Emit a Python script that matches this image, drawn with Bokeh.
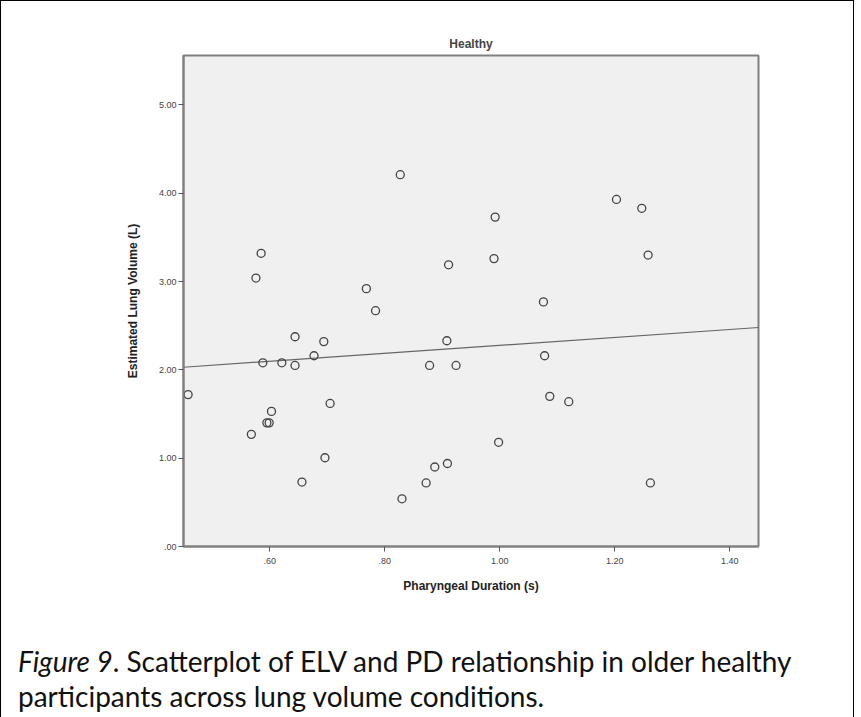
from bokeh.plotting import figure
from bokeh.models import Range1d, CustomJSTickFormatter, FixedTicker, Div
from bokeh.layouts import column
from bokeh.embed import file_html
from bokeh.resources import INLINE

pd_s = [0.458, 0.568, 0.576, 0.585, 0.588, 0.595, 0.599, 0.603, 0.621, 0.644,
        0.644, 0.656, 0.677, 0.694, 0.696, 0.705, 0.768, 0.784, 0.827, 0.830,
        0.872, 0.878, 0.887, 0.908, 0.909, 0.911, 0.924, 0.990, 0.992, 0.998,
        1.076, 1.078, 1.087, 1.120, 1.203, 1.247, 1.258, 1.262]
elv = [1.72, 1.27, 3.04, 3.32, 2.08, 1.40, 1.40, 1.53, 2.08, 2.375,
       2.05, 0.73, 2.16, 2.32, 1.005, 1.62, 2.92, 2.67, 4.21, 0.54,
       0.72, 2.05, 0.90, 2.33, 0.94, 3.19, 2.05, 3.26, 3.73, 1.18,
       2.77, 2.16, 1.70, 1.64, 3.93, 3.83, 3.30, 0.72]
fit_x = [0.45, 1.45]
fit_y = [2.03, 2.48]
x_ticks = [0.6, 0.8, 1.0, 1.2, 1.4]
y_ticks = [0, 1, 2, 3, 4, 5]

p = figure(width=843, height=603, output_backend="svg", toolbar_location=None,
           x_range=Range1d(0.45, 1.45), y_range=Range1d(0, 5.56),
           min_border_left=182, min_border_right=86, min_border_top=54,
           min_border_bottom=58, title="Healthy")
p.title.align = "center"
p.title.text_font = "Liberation Sans"
p.title.text_font_size = "12px"
p.title.text_font_style = "bold"
p.title.offset = 0
p.title.standoff = 10
p.background_fill_color = "#f0f0f0"
p.border_fill_color = "white"
p.outline_line_color = "#808080"
p.outline_line_width = 2
p.grid.visible = False

fmt = CustomJSTickFormatter(code="return tick.toFixed(2).replace(/^0/, '');")
for ax, ticks, lab in ((p.xaxis, x_ticks, "Pharyngeal Duration (s)"),
                       (p.yaxis, y_ticks, "Estimated Lung Volume (L)")):
    ax.ticker = FixedTicker(ticks=ticks)
    ax.formatter = fmt
    ax.minor_tick_line_color = None
    ax.major_tick_in = 0
    ax.major_tick_out = 5
    ax.major_tick_line_color = "#555555"
    ax.axis_line_color = "#808080"
    ax.axis_line_width = 2
    ax.major_label_text_font = "Liberation Sans"
    ax.major_label_text_font_size = "9px"
    ax.major_label_text_color = "#444444"
    ax.axis_label = lab
    ax.axis_label_text_font = "Liberation Sans"
    ax.axis_label_text_font_size = "12px"
    ax.axis_label_text_font_style = "bold"
    ax.axis_label_text_color = "#222222"
p.xaxis.major_label_standoff = 6
p.xaxis.axis_label_standoff = 12
p.yaxis.major_label_standoff = 2
p.yaxis.axis_label_standoff = 16

p.line(fit_x, fit_y, line_color="#666666", line_width=1.2)
p.scatter(pd_s, elv, size=8, fill_color=None, line_color="#444444", line_width=1.3)

cap = Div(text="<i>Figure 9</i>. Scatterplot of ELV and PD relationship in older healthy<br>"
               "participants across lung volume conditions.",
          width=830, styles={"font-family": "Lato", "font-size": "28px",
                             "line-height": "35px", "color": "#111", "margin-left": "17px",
                             "margin-top": "40px"})

layout = column(p, cap, styles={"border": "1.5px solid black"})
open("out.html", "w").write(file_html(layout, INLINE))
